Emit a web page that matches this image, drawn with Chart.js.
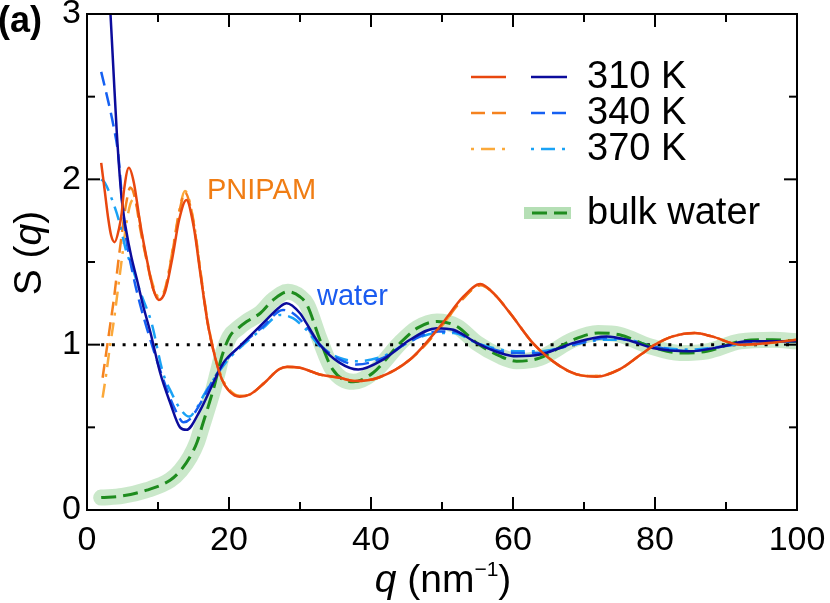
<!DOCTYPE html>
<html><head><meta charset="utf-8">
<script src="https://cdn.jsdelivr.net/npm/chart.js@4"></script>
<style>html,body{margin:0;padding:0;background:#fff;overflow:hidden}canvas{display:block}</style>
</head><body>
<canvas id="c" width="830" height="603"></canvas>
<script>
// ---------------- data ----------------
const xTicks = [0, 20, 40, 60, 80, 100];
const yTicks = [0, 1, 2, 3];
const xMinorTicks = [10, 30, 50, 70, 90];
const yMinorTicks = [0.5, 1.5, 2.5];
const tempLabels = ['310 K', '340 K', '370 K'];
const bulkLabel = 'bulk water';

// PNIPAM structure factors
const pnipamQ310 = [2, 2.5, 3, 3.4, 3.9, 4.5, 4.9, 5.2, 5.9, 6.6, 7.5, 8.5, 9.3, 10.1, 11, 12, 13, 14, 15, 16, 17, 18, 19, 20, 21.5, 23, 25, 27, 28.2, 30, 32.8, 35.6, 37.7, 41, 45.5, 49.7, 53, 55.4, 57.5, 59.6, 63, 66.6, 69, 71.8, 75, 78, 80, 82.5, 85.6, 88, 92, 96, 100];
const pnipamS310 = [2.1, 1.93, 1.76, 1.66, 1.62, 1.7, 1.8, 1.93, 2.07, 1.98, 1.73, 1.5, 1.34, 1.27, 1.32, 1.52, 1.76, 1.875, 1.72, 1.42, 1.13, 0.93, 0.79, 0.72, 0.685, 0.7, 0.77, 0.85, 0.867, 0.86, 0.82, 0.8, 0.78, 0.8, 0.91, 1.11, 1.29, 1.367, 1.3, 1.19, 1.0, 0.87, 0.82, 0.806, 0.85, 0.94, 1.0, 1.05, 1.07, 1.05, 1.0, 1.01, 1.03];

const pnipamQ340 = [2.2, 2.7, 3.2, 3.8, 4.4, 5, 5.5, 6.1, 6.8, 7.5, 8.5, 9.3, 10.1, 11, 12, 13, 13.8, 15, 16, 17, 18, 19, 20, 21.5, 23, 25, 27, 28.2, 30, 32.8, 35.6, 37.7, 41, 45.5, 49.7, 53, 55.4, 57.5, 59.6, 63, 66.6, 69, 71.8, 75, 78, 80, 82.5, 85.6, 88, 92, 96, 100];
const pnipamS340 = [0.8, 0.95, 1.1, 1.28, 1.5, 1.7, 1.85, 1.95, 1.88, 1.7, 1.49, 1.34, 1.28, 1.33, 1.55, 1.8, 1.92, 1.74, 1.43, 1.13, 0.93, 0.79, 0.72, 0.69, 0.7, 0.77, 0.85, 0.865, 0.86, 0.82, 0.8, 0.78, 0.8, 0.91, 1.1, 1.28, 1.36, 1.3, 1.19, 1.0, 0.87, 0.82, 0.81, 0.85, 0.94, 1.0, 1.05, 1.07, 1.05, 1.0, 1.01, 1.03];

const pnipamQ370 = [2.2, 2.7, 3.2, 3.8, 4.4, 5, 5.5, 6.1, 6.6, 7.2, 8, 9.3, 10.1, 11, 12, 13, 13.8, 15, 16, 17, 18, 19, 20, 21.5, 23, 25, 27, 28.2, 30, 32.8, 35.6, 37.7, 41, 45.5, 49.7, 53, 55.4, 57.5, 59.6, 63, 66.6, 69, 71.8, 75, 78, 80, 82.5, 85.6, 88, 92, 96, 100];
const pnipamS370 = [0.68, 0.82, 0.98, 1.15, 1.35, 1.55, 1.72, 1.85, 1.88, 1.8, 1.6, 1.36, 1.29, 1.34, 1.56, 1.81, 1.93, 1.75, 1.44, 1.14, 0.94, 0.8, 0.73, 0.69, 0.7, 0.77, 0.85, 0.865, 0.86, 0.82, 0.8, 0.78, 0.8, 0.91, 1.1, 1.28, 1.36, 1.3, 1.19, 1.0, 0.87, 0.82, 0.81, 0.85, 0.94, 1.0, 1.05, 1.07, 1.05, 1.0, 1.01, 1.03];

// water (in PNIPAM solution) structure factors
const waterQ310 = [2, 3, 3.7, 4.2, 4.9, 6.1, 7, 8, 8.9, 10.3, 11.7, 13.1, 14, 15.9, 17.8, 19.2, 21.5, 24.8, 27.2, 28.1, 30, 30.9, 32.8, 35.6, 38.2, 41.7, 45.5, 49.3, 51.6, 54.9, 58.2, 60.5, 63.8, 66.6, 68.5, 73.2, 76, 79.7, 84.9, 89.6, 92.9, 96, 100];
const waterS310 = [4.0, 3.25, 2.68, 2.28, 1.875, 1.56, 1.4, 1.22, 1.08, 0.83, 0.65, 0.5, 0.485, 0.6, 0.77, 0.89, 0.99, 1.13, 1.23, 1.25, 1.19, 1.13, 1.0, 0.89, 0.85, 0.91, 1.03, 1.1, 1.09, 1.01, 0.95, 0.93, 0.94, 0.98, 1.01, 1.05, 1.03, 0.98, 0.96, 0.99, 1.02, 1.02, 1.02];

const waterQ340 = [2, 3, 3.7, 4.4, 5, 5.5, 6.5, 7.5, 8.5, 9.5, 10.5, 11.5, 12.5, 13.6, 14.5, 15.9, 17.8, 19.5, 21.5, 24.8, 27.6, 29, 30.9, 32.8, 35.6, 38, 41.7, 45.5, 49.3, 51.6, 54.9, 58.2, 61, 63.8, 66.6, 68.5, 73.2, 76, 79.7, 84.9, 89.6, 92.9, 96, 100];
const waterS340 = [2.65, 2.47, 2.33, 2.15, 1.85, 1.65, 1.42, 1.24, 1.09, 0.95, 0.82, 0.7, 0.6, 0.53, 0.55, 0.64, 0.79, 0.9, 0.99, 1.11, 1.21, 1.19, 1.11, 1.0, 0.91, 0.88, 0.92, 1.02, 1.08, 1.08, 1.01, 0.96, 0.95, 0.95, 0.98, 1.0, 1.04, 1.03, 0.99, 0.96, 0.99, 1.01, 1.02, 1.02];

const waterQ370 = [2, 2.5, 3.5, 4.5, 5.5, 6.5, 7.5, 9.1, 10.7, 12, 13, 14.4, 15.5, 16.5, 18, 19.5, 21.5, 24.8, 27.2, 29, 30.9, 32.8, 35.6, 38, 41.7, 45.5, 49.3, 51.6, 54.9, 58.2, 61, 63.8, 66.6, 68.5, 73.2, 76, 79.7, 84.9, 89.6, 92.9, 96, 100];
const waterS370 = [2.0, 1.98, 1.88, 1.75, 1.57, 1.45, 1.32, 1.13, 0.83, 0.7, 0.62, 0.565, 0.62, 0.7, 0.8, 0.89, 0.98, 1.1, 1.18, 1.16, 1.09, 0.99, 0.92, 0.9, 0.93, 1.02, 1.07, 1.07, 1.01, 0.97, 0.96, 0.96, 0.98, 1.0, 1.03, 1.03, 0.99, 0.97, 0.99, 1.01, 1.02, 1.02];

// bulk water
const bulkQ = [2, 5, 8.4, 11.7, 13.2, 14.5, 15.5, 16.3, 17.1, 17.8, 18.4, 19, 20.1, 21.3, 22.5, 24.4, 26.2, 28.3, 30, 31, 32.8, 34.6, 37.5, 40.3, 44.1, 46.5, 49.3, 52.1, 54.9, 58.2, 60.5, 63.8, 68.5, 72, 75, 79.3, 83.5, 87.3, 92, 96.6, 100];
const bulkS = [0.075, 0.085, 0.12, 0.18, 0.24, 0.32, 0.41, 0.52, 0.63, 0.73, 0.83, 0.93, 1.05, 1.1, 1.14, 1.19, 1.27, 1.32, 1.29, 1.24, 1.03, 0.85, 0.775, 0.83, 1.01, 1.1, 1.14, 1.11, 1.01, 0.93, 0.9, 0.92, 1.03, 1.07, 1.06, 0.99, 0.95, 0.96, 1.02, 1.03, 1.02];

// reference line S(q) = 1
const refQ = [2, 100];
const refS = [1, 1];

// ---------------- chart ----------------
const FONT = "'Liberation Sans', Arial, Helvetica, sans-serif";
const pts = (q, s) => q.map((v, i) => ({ x: v, y: s[i] }));
const DASH = [14, 7];
const DASHDOT = [14, 7, 3, 7];

function line(label, q, s, color, width, dash, order, extra) {
  return Object.assign({
    label, data: pts(q, s), borderColor: color, borderWidth: width,
    borderDash: dash || [], order, fill: false, pointRadius: 0,
    cubicInterpolationMode: 'monotone', borderJoinStyle: 'round', borderCapStyle: 'butt'
  }, extra || {});
}

const datasets = [
  line('bulk halo', bulkQ, bulkS, 'rgba(150,210,150,0.5)', 16, [], 20, { borderCapStyle: 'round' }),
  line('ref', refQ, refS, '#000', 3, [3, 7.7], 19, { cubicInterpolationMode: 'default' }),
  line('PNIPAM 370 K', pnipamQ370, pnipamS370, '#FBA93A', 2.5, DASHDOT, 9),
  line('PNIPAM 340 K', pnipamQ340, pnipamS340, '#F5821E', 2.5, DASH, 8),
  line('water 370 K', waterQ370, waterS370, '#1AA2F5', 2.5, DASHDOT, 7),
  line('water 340 K', waterQ340, waterS340, '#1560F2', 2.5, DASH, 6),
  line('bulk water', bulkQ, bulkS, '#1E8C1E', 3, [15, 7], 5),
  line('water 310 K', waterQ310, waterS310, '#0C0C9C', 2.5, [], 4),
  line('PNIPAM 310 K', pnipamQ310, pnipamS310, '#E8470F', 2.5, [], 3),
];
const byLabel = l => datasets.find(d => d.label === l);

const decor = {
  id: 'decor',
  afterDatasetsDraw(chart) {
    const ctx = chart.ctx, a = chart.chartArea;
    const xs = chart.scales.x, ys = chart.scales.y;
    ctx.save();
    ctx.strokeStyle = '#000';
    ctx.lineWidth = 2;
    ctx.setLineDash([]);
    ctx.strokeRect(a.left, a.top, a.right - a.left, a.bottom - a.top);
    const tick = (x1, y1, x2, y2) => { ctx.beginPath(); ctx.moveTo(x1, y1); ctx.lineTo(x2, y2); ctx.stroke(); };
    const MAJ = 13, MIN = 8;
    [[xTicks, MAJ], [xMinorTicks, MIN]].forEach(([arr, L]) => arr.forEach(v => {
      const x = xs.getPixelForValue(v);
      tick(x, a.bottom, x, a.bottom - L);
      tick(x, a.top, x, a.top + L);
    }));
    [[yTicks, MAJ], [yMinorTicks, MIN]].forEach(([arr, L]) => arr.forEach(v => {
      const y = ys.getPixelForValue(v);
      tick(a.left, y, a.left + L, y);
      tick(a.right, y, a.right - L, y);
    }));
    ctx.restore();
  },
  afterDraw(chart) {
    const ctx = chart.ctx;
    ctx.save();
    ctx.fillStyle = '#000';
    ctx.textBaseline = 'alphabetic';
    // panel label
    ctx.font = `bold 36px ${FONT}`;
    ctx.textAlign = 'left';
    ctx.fillText('(a)', -2, 32);

    // y title  S (q)
    ctx.save();
    ctx.translate(30, 253);
    ctx.rotate(-Math.PI / 2);
    ctx.textBaseline = 'middle';
    const fN = `39px ${FONT}`, fI = `italic 39px ${FONT}`;
    const parts = [['S (', fN], ['q', fI], [')', fN]];
    let tw = 0;
    parts.forEach(p => { ctx.font = p[1]; tw += ctx.measureText(p[0]).width; });
    let cx = -tw / 2;
    parts.forEach(p => { ctx.font = p[1]; ctx.fillText(p[0], cx, 0); cx += ctx.measureText(p[0]).width; });
    ctx.restore();

    // x title  q (nm^-1)
    {
      const base = 592, sup = 576;
      const xp = [['q', fI, base], [' (nm', fN, base], ['\u22121', `21px ${FONT}`, sup], [')', fN, base]];
      let w = 0;
      xp.forEach(p => { ctx.font = p[1]; w += ctx.measureText(p[0]).width; });
      let x = 443 - w / 2;
      xp.forEach(p => { ctx.font = p[1]; ctx.fillText(p[0], x, p[2]); x += ctx.measureText(p[0]).width; });
    }

    // annotations
    ctx.font = `29px ${FONT}`;
    ctx.fillStyle = '#F07D14';
    ctx.fillText('PNIPAM', 207, 199);
    ctx.fillStyle = '#1A5BF0';
    ctx.fillText('water', 317, 305);

    // legend
    const seg = (x1, x2, y, ds, offset) => {
      ctx.save();
      ctx.strokeStyle = ds.borderColor;
      ctx.lineWidth = ds.borderWidth;
      ctx.setLineDash(ds.borderDash);
      ctx.lineDashOffset = offset || 0;
      ctx.lineCap = 'butt';
      ctx.beginPath(); ctx.moveTo(x1, y); ctx.lineTo(x2, y); ctx.stroke();
      ctx.restore();
    };
    const rows = [77, 113, 149];
    const pn = ['PNIPAM 310 K', 'PNIPAM 340 K', 'PNIPAM 370 K'];
    const wa = ['water 310 K', 'water 340 K', 'water 370 K'];
    rows.forEach((y, i) => {
      const off = i === 2 ? 21 : 0;
      seg(471, 506, y, byLabel(pn[i]), off);
      seg(531, 567, y, byLabel(wa[i]), off);
      ctx.fillStyle = '#000';
      ctx.font = `38px ${FONT}`;
      ctx.textBaseline = 'middle';
      ctx.fillText(tempLabels[i], 587, y + 1);
    });
    const yb = 213;
    ctx.fillStyle = 'rgba(150,210,150,0.7)';
    ctx.fillRect(524, yb - 6, 47, 12);
    seg(532, 567, yb, byLabel('bulk water'));
    ctx.fillStyle = '#000';
    ctx.fillText(bulkLabel, 587, yb + 1);
    ctx.restore();
  }
};

new Chart(document.getElementById('c'), {
  type: 'line',
  data: { datasets },
  options: {
    responsive: false,
    animation: false,
    devicePixelRatio: 1,
    layout: { padding: { left: 0, right: 33, top: 14, bottom: 0 } },
    plugins: { legend: { display: false }, tooltip: { enabled: false } },
    elements: { point: { radius: 0 } },
    scales: {
      x: {
        type: 'linear', min: 0, max: 100,
        grid: { display: false, drawTicks: false },
        border: { display: false },
        afterBuildTicks: s => { s.ticks = xTicks.map(v => ({ value: v })); },
        afterFit: s => { s.height = 93; s.paddingLeft = 0; s.paddingRight = 0; },
        ticks: { color: '#000', font: { family: FONT, size: 34 }, padding: 10, maxRotation: 0, autoSkip: false }
      },
      y: {
        type: 'linear', min: 0, max: 3,
        grid: { display: false, drawTicks: false },
        border: { display: false },
        afterBuildTicks: s => { s.ticks = yTicks.map(v => ({ value: v })); },
        afterFit: s => { s.width = 87; s.paddingTop = 0; s.paddingBottom = 0; },
        ticks: { color: '#000', font: { family: FONT, size: 34 }, padding: 6, autoSkip: false }
      }
    }
  },
  plugins: [decor]
});
</script>
</body></html>
